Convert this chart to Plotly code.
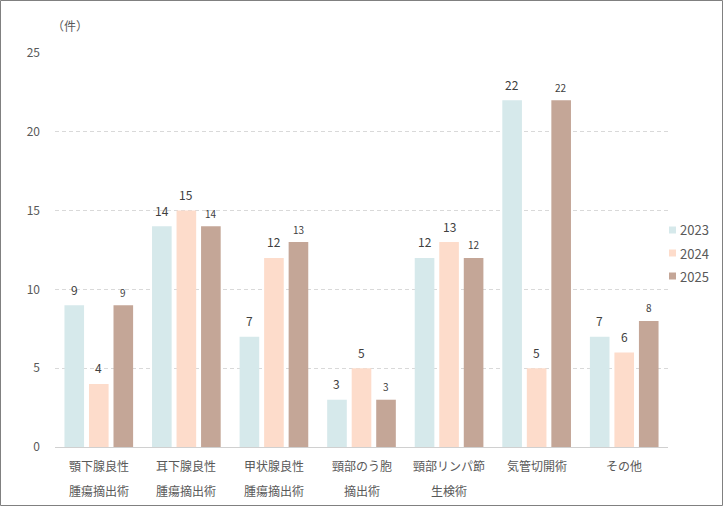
import plotly.graph_objects as go

categories = ["顎下腺良性\n腫瘍摘出術", "耳下腺良性\n腫瘍摘出術", "甲状腺良性\n腫瘍摘出術",
              "頸部のう胞\n摘出術", "頸部リンパ節\n生検術", "気管切開術", "その他"]
v2023 = [9, 14, 7, 3, 12, 22, 7]
v2024 = [4, 15, 12, 5, 13, 5, 6]
v2025 = [9, 14, 13, 3, 12, 22, 8]
years = ["2023", "2024", "2025"]
colors = ["#d6e9eb", "#fddccb", "#c4a697"]
label_sizes = [12, 12, 10]
label_shift = [16, 16, 13]

FONT = "Noto Sans CJK JP"
BARGAP = 0.16
fig = go.Figure()
series = [v2023, v2024, v2025]
for name, vals, col in zip(years, series, colors):
    fig.add_trace(go.Bar(
        x=categories, y=vals, name=name,
        marker=dict(color=col, line=dict(width=0)), showlegend=False,
    ))

L, R, T, B = 55, 55, 53, 59
pw, ph = 723 - L - R, 506 - T - B

annotations = [dict(text="（件）", xref="paper", yref="paper", x=(50 - L) / pw,
                    y=(447 - 25) / ph, xanchor="left", yanchor="middle",
                    showarrow=False, font=dict(size=12, color="#595959"))]
# category labels (two lines, wide line spacing)
for cat in categories:
    for i, line in enumerate(cat.split("\n")):
        annotations.append(dict(text=line, x=cat, xref="x", yref="paper",
                                y=0, yshift=-(18 + 25 * i), yanchor="middle",
                                showarrow=False, font=dict(size=12, color="#595959")))
# value labels above bars
slot = (1 - BARGAP) / len(series)
for k, (vals, fs, sh) in enumerate(zip(series, label_sizes, label_shift)):
    off = (k - (len(series) - 1) / 2) * slot
    for i, v in enumerate(vals):
        annotations.append(dict(text=str(v), x=i + off, y=v, xref="x", yref="y",
                                yshift=sh, yanchor="middle", showarrow=False,
                                font=dict(size=fs, color="#404040")))
# legend
shapes = []
legend_y = [230, 253, 276]
for name, col, py in zip(years, colors, legend_y):
    yc = (447 - py) / ph
    shapes.append(dict(type="rect", xref="paper", yref="paper",
                       x0=(669 - L) / pw, x1=(676 - L) / pw,
                       y0=yc - 3.5 / ph, y1=yc + 3.5 / ph,
                       line=dict(width=0), fillcolor=col))
    annotations.append(dict(text=name, xref="paper", yref="paper", x=(678 - L) / pw,
                            y=yc, xanchor="left", yanchor="middle", showarrow=False,
                            font=dict(size=13, color="#595959")))
shapes.append(dict(type="rect", xref="paper", yref="paper",
                   x0=(0.5 - L) / pw, x1=(722.5 - L) / pw,
                   y0=(447 - 505.5) / ph, y1=(447 - 0.5) / ph,
                   line=dict(color="#808080", width=1), fillcolor="rgba(0,0,0,0)"))

fig.update_layout(
    width=723, height=506,
    margin=dict(l=L, r=R, t=T, b=B, pad=0, autoexpand=False),
    paper_bgcolor="white", plot_bgcolor="white",
    font=dict(family=FONT, color="#595959", size=12),
    barmode="group", bargap=BARGAP, bargroupgap=0.2,
    showlegend=False,
    xaxis=dict(showline=True, linecolor="#d0d0d0", linewidth=1, ticks="",
               showticklabels=False, showgrid=False, automargin=False),
    yaxis=dict(range=[0, 25], dtick=5, showgrid=True, gridcolor="#d9d9d9",
               griddash="4px,3px", gridwidth=1, zeroline=False, automargin=False,
               tickfont=dict(size=12, color="#595959"), ticklabelstandoff=14),
    annotations=annotations,
    shapes=shapes,
)
fig.write_html("out.html", config={"displayModeBar": False},
               post_script="document.body.style.margin='0';document.body.style.overflow='hidden';")
